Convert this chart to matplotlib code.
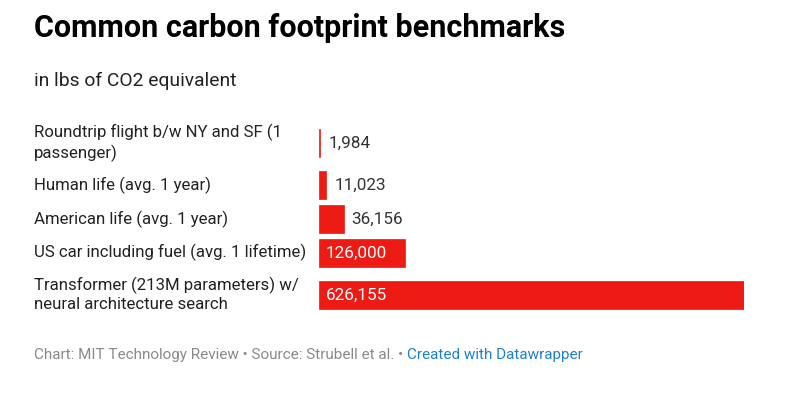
import matplotlib
matplotlib.use("Agg")
import matplotlib.pyplot as plt
from matplotlib.transforms import blended_transform_factory

plt.rcParams['font.family'] = ['Roboto', 'DejaVu Sans']

categories = [
    "Roundtrip flight b/w NY and SF (1\npassenger)",
    "Human life (avg. 1 year)",
    "American life (avg. 1 year)",
    "US car including fuel (avg. 1 lifetime)",
    "Transformer (213M parameters) w/\nneural architecture search",
]
values = [1984, 11023, 36156, 126000, 626155]
value_labels = ["1,984", "11,023", "36,156", "126,000", "626,155"]
inside = [False, False, False, True, True]

W, H = 791, 395
fig = plt.figure(figsize=(W / 100, H / 100), dpi=100)
fig.patch.set_facecolor('white')

# row layout (pixel units)
single_h, double_h = 33.75, 50.25
heights = [double_h if "\n" in c else single_h for c in categories]
centers = []
acc = 0.0
for h in heights:
    centers.append(acc + h / 2)
    acc += h
total = acc

top_px = 118
x0_px, x1_px = 319, 744
ax = fig.add_axes([x0_px / W, 1 - (top_px + total) / H, (x1_px - x0_px) / W, total / H])
ax.set_xlim(0, max(values))
ax.set_ylim(total, 0)
ax.axis('off')

bar_color = '#ee1a14'
ax.barh(centers, values, height=28, color=bar_color, edgecolor=bar_color, linewidth=0.5)

px_x = max(values) / (x1_px - x0_px)
for c, v, lab, ins in zip(centers, values, value_labels, inside):
    if ins:
        ax.text(7 * px_x, c + 0.5, lab, va='center', ha='left', color='white', fontsize=12.3)
    else:
        ax.text(v + 8 * px_x, c + 0.5, lab, va='center', ha='left', color='#333333', fontsize=12.3)

tr = blended_transform_factory(fig.transFigure, ax.transData)
for c, cat in zip(centers, categories):
    ax.text(34 / W, c, cat, transform=tr, va='center', ha='left', color='#222222',
            fontsize=12.1, linespacing=1.25)

fig.text(34 / W, 1 - 37 / H, "Common carbon footprint benchmarks", fontsize=22,
         fontweight='bold', color='#000000', va='baseline', ha='left')
fig.text(34 / W, 1 - 86 / H, "in lbs of CO2 equivalent", fontsize=13.9,
         color='#222222', va='baseline', ha='left')

foot1 = fig.text(34 / W, 1 - 359 / H, "Chart: MIT Technology Review • Source: Strubell et al. • ",
                 fontsize=11, color='#8a8a8a', va='baseline', ha='left')
fig.canvas.draw()
bb = foot1.get_window_extent()
fig.text(bb.x1 / W, 1 - 359 / H, "Created with Datawrapper", fontsize=11,
         color='#1d81d0', va='baseline', ha='left')

fig.savefig("out.png", dpi=100, facecolor='white')
